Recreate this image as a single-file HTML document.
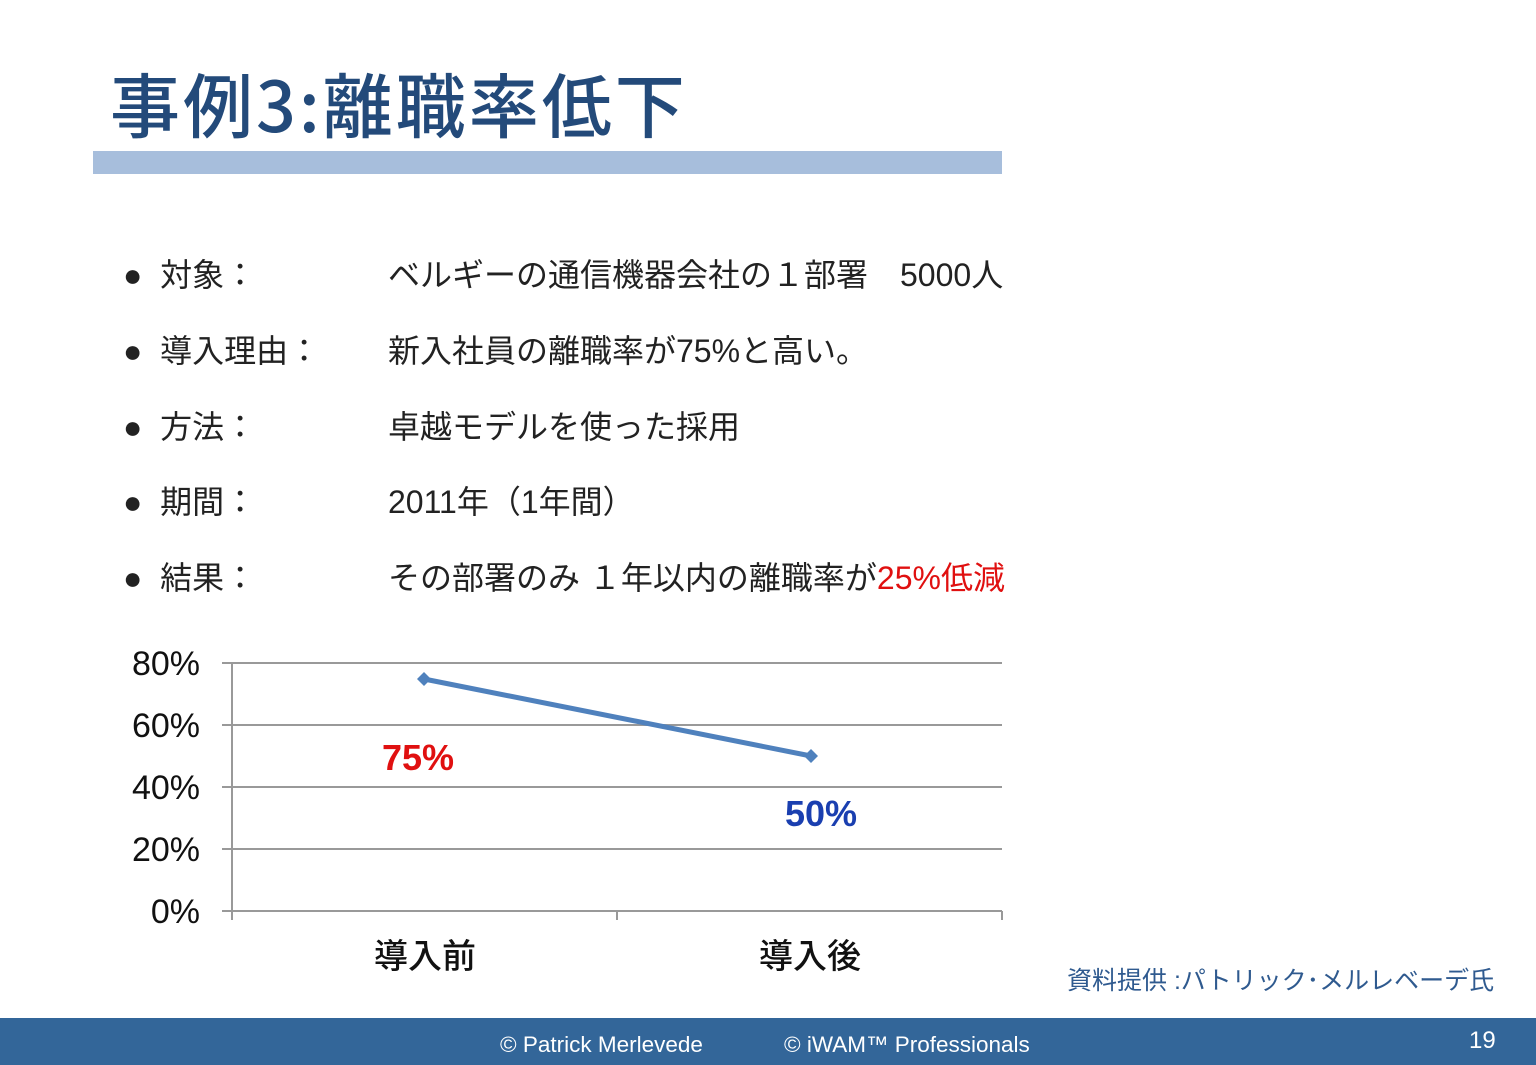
<!DOCTYPE html>
<html><head><meta charset="utf-8"><style>
body{margin:0;width:1536px;height:1065px;background:#fff;position:relative;overflow:hidden;font-family:"Liberation Sans","Noto Sans CJK JP",sans-serif;}
.a{position:absolute;white-space:nowrap;}
.t{font-size:32px;color:#222;}
</style></head><body>
<div class="a" style="left:110px;top:52px;font-size:70px;color:#234a7a;font-weight:500;letter-spacing:3px;font-family:'Noto Sans CJK JP',sans-serif;">事例3:離職率低下</div>
<div class="a" style="left:93px;top:151px;width:909px;height:23px;background:#a7bedc;"></div>

<div class="a t" style="left:123px;top:250px;">●&nbsp;&nbsp;対象：</div>
<div class="a t" style="left:388px;top:250px;">ベルギーの通信機器会社の１部署　5000人</div>
<div class="a t" style="left:123px;top:326px;">●&nbsp;&nbsp;導入理由：</div>
<div class="a t" style="left:388px;top:326px;">新入社員の離職率が75%と高い。</div>
<div class="a t" style="left:123px;top:402px;">●&nbsp;&nbsp;方法：</div>
<div class="a t" style="left:388px;top:402px;">卓越モデルを使った採用</div>
<div class="a t" style="left:123px;top:477px;">●&nbsp;&nbsp;期間：</div>
<div class="a t" style="left:388px;top:477px;">2011年（1年間）</div>
<div class="a t" style="left:123px;top:553px;">●&nbsp;&nbsp;結果：</div>
<div class="a t" style="left:388px;top:553px;">その部署のみ １年以内の離職率が<span style="color:#e01010">25%低減</span></div>

<svg class="a" style="left:0;top:0" width="1536" height="1065">
<g stroke="#999" stroke-width="2">
<line x1="222" y1="663" x2="1002" y2="663"/>
<line x1="222" y1="725" x2="1002" y2="725"/>
<line x1="222" y1="787" x2="1002" y2="787"/>
<line x1="222" y1="849" x2="1002" y2="849"/>
<line x1="222" y1="911" x2="1002" y2="911"/>
<line x1="232" y1="663" x2="232" y2="920"/>
<line x1="617" y1="911" x2="617" y2="920"/>
<line x1="1002" y1="911" x2="1002" y2="920"/>
</g>
<line x1="424" y1="679" x2="811" y2="756" stroke="#4f81bd" stroke-width="5"/>
<polygon points="424,672 431,679 424,686 417,679" fill="#4f81bd"/>
<polygon points="811,749 818,756 811,763 804,756" fill="#4f81bd"/>
<g font-size="34" fill="#111" text-anchor="end" font-family="Liberation Sans,sans-serif">
<text x="200" y="675">80%</text><text x="200" y="737">60%</text><text x="200" y="799">40%</text><text x="200" y="861">20%</text><text x="200" y="923">0%</text>
</g>
<text x="418" y="770" font-size="36" font-weight="bold" fill="#e01010" text-anchor="middle">75%</text>
<text x="821" y="826" font-size="36" font-weight="bold" fill="#1a3fb0" text-anchor="middle">50%</text>
<g font-size="34" fill="#111" text-anchor="middle" font-weight="500" font-family="Noto Sans CJK JP,sans-serif">
<text x="425" y="968">導入前</text><text x="810" y="968">導入後</text>
</g>
</svg>

<div class="a" style="left:1067px;top:961px;font-size:25px;color:#2f5a8f;">資料提供 :パトリック･メルレベーデ氏</div>
<div class="a" style="left:0;top:1018px;width:1536px;height:47px;background:#336699;"></div>
<div class="a" style="left:500px;top:1032px;font-size:22.5px;color:#fff;">© Patrick Merlevede</div>
<div class="a" style="left:784px;top:1032px;font-size:22.5px;color:#fff;">© iWAM™ Professionals</div>
<div class="a" style="left:1469px;top:1027px;font-size:24px;color:#fff;">19</div>
</body></html>
